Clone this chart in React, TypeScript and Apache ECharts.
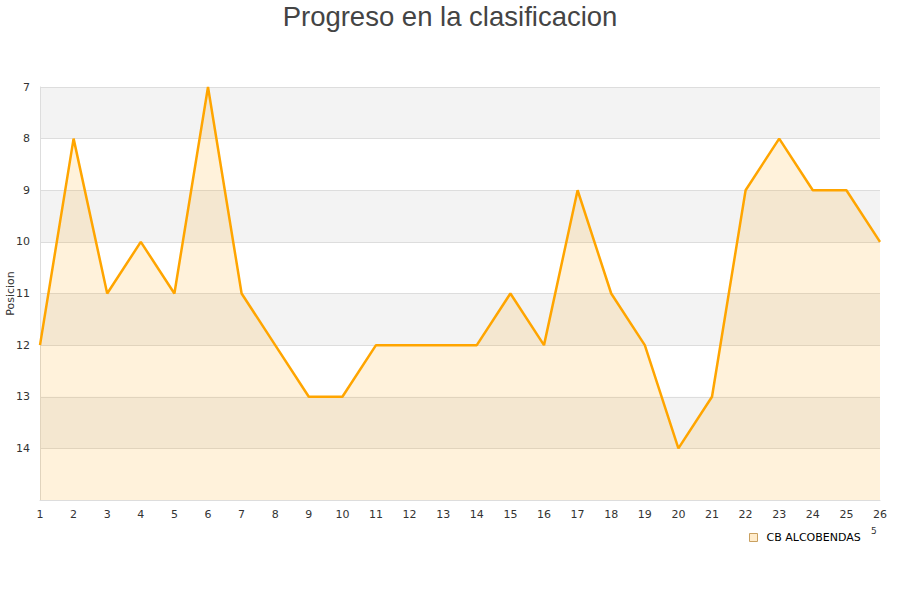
import React, { useEffect, useRef } from "react";
import * as echarts from "echarts";

const jornadas = ["1","2","3","4","5","6","7","8","9","10","11","12","13","14","15","16","17","18","19","20","21","22","23","24","25","26"];
const posiciones = [12, 8, 11, 10, 11, 7, 11, 12, 13, 13, 12, 12, 12, 12, 11, 12, 9, 11, 12, 14, 13, 9, 8, 9, 9, 10];
const teamName = "CB ALCOBENDAS";
const titleText = "Progreso en la clasificacion";
const yName = "Posicion";

export default function App() {
  const ref = useRef<HTMLDivElement>(null);
  useEffect(() => {
    if (!ref.current) return;
    const chart = echarts.init(ref.current, null, { renderer: "svg" });
    chart.setOption({
      animation: false,
      backgroundColor: "#fff",
      title: {
        text: titleText,
        left: "center",
        top: -3,
        textStyle: { fontFamily: "Liberation Sans", fontSize: 27.5, fontWeight: "normal", color: "#444" },
      },
      legend: {
        data: [{ name: teamName, icon: "rect", itemStyle: { color: "#ffeccc", borderColor: "#c9a060", borderWidth: 1 } }],
        left: 744,
        top: 527,
        itemWidth: 8,
        itemHeight: 8,
        itemGap: 8,
        textStyle: { fontFamily: "DejaVu Sans", fontSize: 11, color: "#000", padding: [0, 0, 0, 4] },
      },
      graphic: [
        { type: "text", left: 871, top: 526, style: { text: "5", fontSize: 9, fontFamily: "DejaVu Sans", fill: "#333" } },
      ],
      grid: { left: 40, right: 20, top: 87, bottom: 100, containLabel: false, outerBoundsMode: "none" },
      xAxis: {
        type: "category",
        data: jornadas,
        boundaryGap: false,
        axisLine: { show: true, lineStyle: { color: "#ddd" } },
        axisTick: { show: false },
        axisLabel: { color: "#333", fontFamily: "DejaVu Sans", fontSize: 11, margin: 9, interval: 0 },
        splitLine: { show: false },
      },
      yAxis: {
        type: "value",
        inverse: true,
        min: 7,
        max: 15,
        interval: 1,
        name: yName,
        nameLocation: "middle",
        nameGap: 24,
        nameMoveOverlap: false,
        nameTextStyle: { fontFamily: "DejaVu Sans", fontSize: 11, color: "#333" },
        axisLine: { show: true, lineStyle: { color: "#ddd" } },
        axisTick: { show: false },
        axisLabel: {
          color: "#333",
          fontFamily: "DejaVu Sans",
          fontSize: 11,
          margin: 10,
          formatter: (v: number) => (v === 15 ? "" : String(v)),
        },
        splitLine: { show: true, lineStyle: { color: "#ddd" } },
        splitArea: { show: true, areaStyle: { color: ["#f3f3f3", "#ffffff"] } },
      },
      series: [
        {
          name: teamName,
          type: "line",
          data: posiciones,
          showSymbol: false,
          symbol: "none",
          lineStyle: { color: "#ffa500", width: 2.5 },
          itemStyle: { color: "#ffa500" },
          areaStyle: { color: "rgba(255,165,0,0.2)", origin: "end" },
        },
      ],
    });
    return () => chart.dispose();
  }, []);
  return <div ref={ref} style={{ width: 900, height: 600, position: "absolute", left: 0, top: 0 }} />;
}
